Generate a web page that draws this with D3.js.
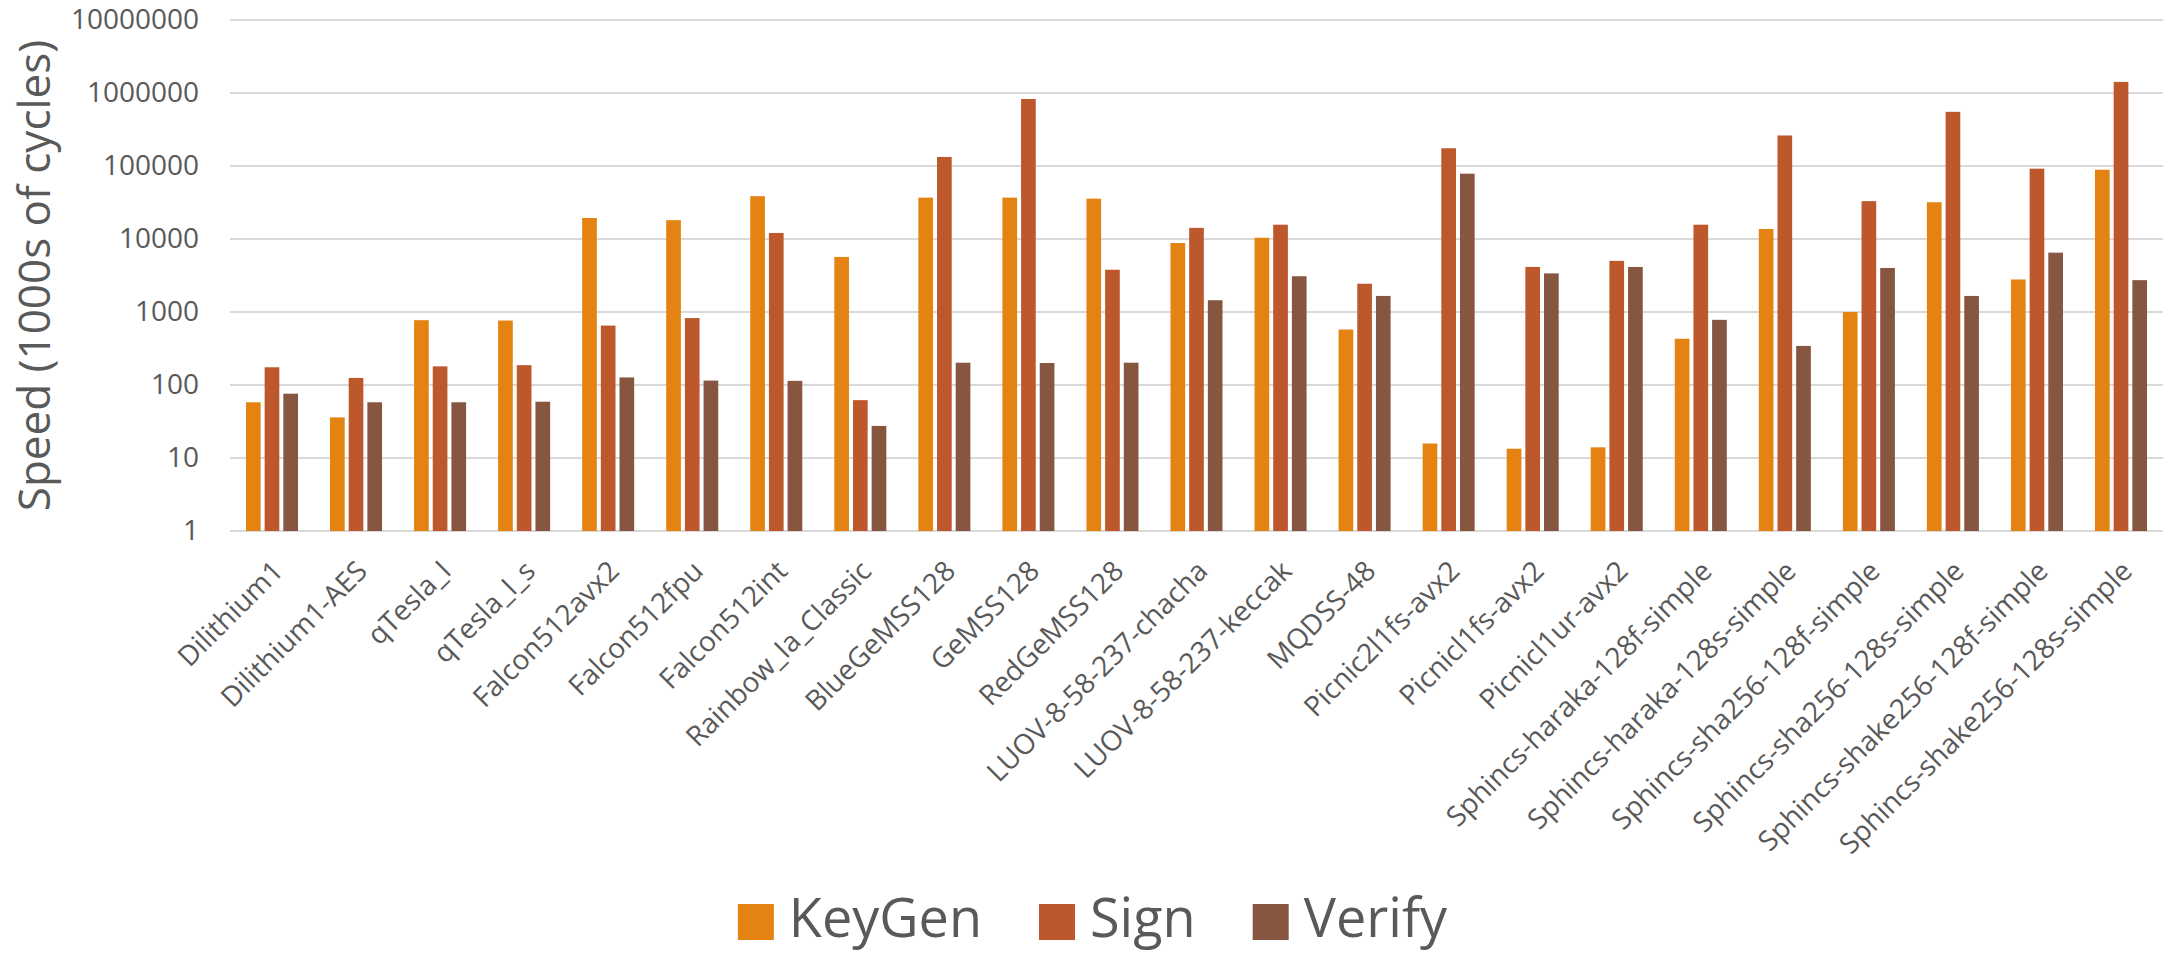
<!DOCTYPE html>
<html>
<head>
<meta charset="utf-8">
<script src="https://cdn.jsdelivr.net/npm/d3@7"></script>
<style>
  html, body { margin: 0; padding: 0; background: #fff; }
  svg { display: block; font-family: "Open Sans", sans-serif; }
</style>
</head>
<body>
<svg width="2181" height="956"></svg>
<script>
const schemes = ["Dilithium1", "Dilithium1-AES", "qTesla_I", "qTesla_I_s", "Falcon512avx2",
    "Falcon512fpu", "Falcon512int", "Rainbow_Ia_Classic", "BlueGeMSS128", "GeMSS128",
    "RedGeMSS128", "LUOV-8-58-237-chacha", "LUOV-8-58-237-keccak", "MQDSS-48",
    "Picnic2l1fs-avx2", "Picnicl1fs-avx2", "Picnicl1ur-avx2", "Sphincs-haraka-128f-simple",
    "Sphincs-haraka-128s-simple", "Sphincs-sha256-128f-simple", "Sphincs-sha256-128s-simple",
    "Sphincs-shake256-128f-simple", "Sphincs-shake256-128s-simple"];

const series = ["KeyGen", "Sign", "Verify"];
const colors = ["#E48312", "#BD582C", "#865640"];

// speeds in 1000s of cycles
const keyGen = [58, 36, 773, 764, 19400, 18100, 38600, 5680, 36900, 36900, 35700, 8810,
    10400, 576, 15.8, 13.4, 14.0, 430, 13700, 1000, 31900, 2790, 88900];
const sign = [175, 125, 180, 187, 652, 826, 12100, 62, 133000, 827000, 3790, 14200,
    15700, 2440, 175000, 4140, 5020, 15700, 262000, 33000, 552000, 91900, 1420000];
const verify = [76, 58, 58, 59, 127, 115, 114, 27.5, 202, 200, 202, 1450,
    3090, 1660, 78500, 3380, 4140, 781, 343, 4010, 1660, 6500, 2730];

const yTicks = [1, 10, 100, 1000, 10000, 100000, 1000000, 10000000];
const yTitle = "Speed (1000s of cycles)";

const margin = {left: 230, right: 2163, top: 20, bottom: 531};
const svg = d3.select("svg");

const x0 = d3.scaleBand()
    .domain(schemes)
    .range([margin.left, margin.right])
    .paddingInner(0.381)
    .paddingOuter(0.19);

const x1 = d3.scaleBand()
    .domain(series)
    .range([0, x0.bandwidth()])
    .paddingInner(0.214);

const y = d3.scaleLog()
    .domain([1, 1e7])
    .range([margin.bottom, margin.top]);

const color = d3.scaleOrdinal().domain(series).range(colors);

// gridlines
svg.append("g")
    .selectAll("line")
    .data(yTicks)
    .enter().append("line")
        .attr("x1", margin.left)
        .attr("x2", margin.right)
        .attr("y1", d => y(d))
        .attr("y2", d => y(d))
        .attr("stroke", "#d9d9d9")
        .attr("stroke-width", 2);

// y axis labels
const yAxis = svg.append("g")
    .attr("transform", `translate(${margin.left},0)`)
    .call(d3.axisLeft(y).tickValues(yTicks).tickFormat(d3.format("d")).tickSize(0).tickPadding(31));
yAxis.select(".domain").remove();
yAxis.selectAll("text")
    .attr("font-family", "Open Sans")
    .attr("font-size", 28)
    .attr("fill", "#595959");

// bars
const rows = schemes.map((s, i) => ({name: s, values: [keyGen[i], sign[i], verify[i]]}));

svg.append("g")
    .selectAll("g")
    .data(rows)
    .enter().append("g")
        .attr("transform", d => `translate(${x0(d.name)},0)`)
    .selectAll("rect")
    .data(d => d.values.map((v, k) => ({key: series[k], value: v})))
    .enter().append("rect")
        .attr("x", d => x1(d.key))
        .attr("width", x1.bandwidth())
        .attr("y", d => y(d.value))
        .attr("height", d => y(1) - y(d.value))
        .attr("fill", d => color(d.key));

// category labels
svg.append("g")
    .selectAll("text")
    .data(schemes)
    .enter().append("text")
        .attr("transform", d => `translate(${x0(d) + x0.bandwidth() / 2 + 5},${margin.bottom + 34}) rotate(-45)`)
        .attr("text-anchor", "end")
        .attr("dominant-baseline", "central")
        .attr("font-size", 28)
        .attr("fill", "#595959")
        .text(d => d);

// y title
svg.append("text")
    .attr("transform", `translate(50,${(margin.top + margin.bottom) / 2}) rotate(-90)`)
    .attr("text-anchor", "middle")
    .attr("font-size", 44)
    .attr("fill", "#595959")
    .text(yTitle);

// legend
const legend = svg.append("g");
const items = legend.selectAll("g")
    .data(series)
    .enter().append("g");
items.append("rect")
    .attr("width", 36)
    .attr("height", 36)
    .attr("y", 904)
    .attr("fill", d => color(d));
items.append("text")
    .attr("x", 51)
    .attr("y", 937)
    .attr("font-size", 54)
    .attr("fill", "#595959")
    .text(d => d);

let cx = 0;
items.each(function() {
    const w = 51 + this.querySelector("text").getComputedTextLength();
    d3.select(this).attr("transform", `translate(${cx},0)`);
    cx += w + 57;
});
const total = cx - 57;
legend.attr("transform", `translate(${(2181 - total) / 2 + 2},0)`);
</script>
</body>
</html>
